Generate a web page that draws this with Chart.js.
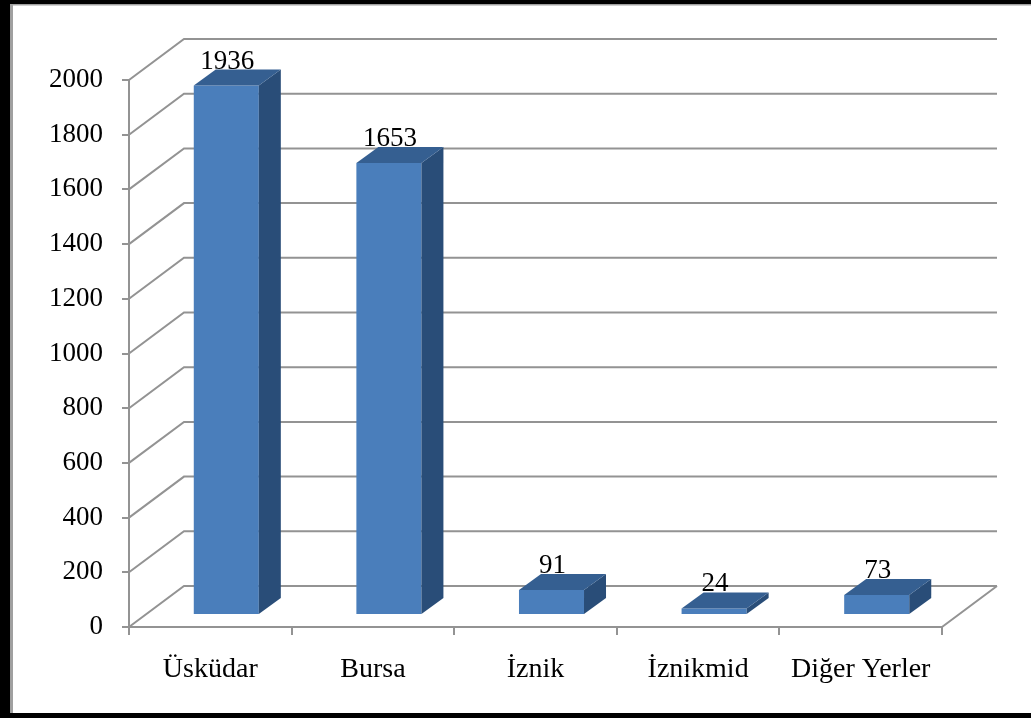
<!DOCTYPE html>
<html lang="tr">
<head>
<meta charset="UTF-8">
<title>Grafik 3D</title>
<script src="https://cdn.jsdelivr.net/npm/chart.js@4.4.1/dist/chart.umd.min.js"></script>
<style>
    html, body { margin: 0; padding: 0; background: #fff; }
    canvas { display: block; }
</style>
</head>
<body>
<canvas id="grafikYerler" width="1031" height="718"></canvas>
<script>
// --- Data grafik ---
const kategoriler = ['Üsküdar', 'Bursa', 'İznik', 'İznikmid', 'Diğer Yerler'];
const nilaiData = [1936, 1653, 91, 24, 73];
const yTicks = [0, 200, 400, 600, 800, 1000, 1200, 1400, 1600, 1800, 2000];

// warna (mirip Excel 2007)
const warnaDepan = '#4a7ebb';
const warnaAtas = '#355f91';
const warnaSamping = '#294d78';
const warnaGaris = '#939393';
const fontSerif = "'Liberation Serif', 'Times New Roman', serif";

// efek 3D: dinding belakang & posisi batang
const dinding = { dx: 55, dy: 41 };
const geserBatang = { dx: 16, dy: 12 };
const dalamBatang = { dx: 22, dy: 16 };

// === Plugin: bingkai gambar ===
const bingkaiPlugin = {
    id: 'bingkai',
    beforeDraw(chart) {
        const ctx = chart.ctx;
        const w = chart.width, h = chart.height;
        ctx.save();
        ctx.fillStyle = '#fff';
        ctx.fillRect(0, 0, w, h);
        ctx.fillStyle = '#000';
        ctx.fillRect(0, 0, 10, h);
        ctx.fillRect(0, 0, w, 4);
        ctx.fillRect(0, h - 5, w, 5);
        ctx.fillStyle = '#a0a0a0';
        ctx.fillRect(10, 4, 3, h - 9);
        ctx.fillRect(10, 4, w - 10, 1.5);
        ctx.restore();
    }
};

// === Plugin: dinding, lantai dan batang 3D ===
const tigaDPlugin = {
    id: 'tigaD',
    beforeDatasetsDraw(chart) {
        const ctx = chart.ctx;
        const area = chart.chartArea;
        const y = chart.scales.y;
        ctx.save();
        ctx.strokeStyle = warnaGaris;
        ctx.lineWidth = 2;
        ctx.beginPath();
        yTicks.forEach(v => {
            const py = y.getPixelForValue(v);
            // garis diagonal dinding kiri
            ctx.moveTo(area.left, py);
            ctx.lineTo(area.left + dinding.dx, py - dinding.dy);
            // garis grid dinding belakang
            ctx.lineTo(area.right + dinding.dx, py - dinding.dy);
        });
        // tepi kanan lantai
        ctx.moveTo(area.right, area.bottom);
        ctx.lineTo(area.right + dinding.dx, area.bottom - dinding.dy);
        ctx.stroke();
        ctx.restore();

        // geser batang ke tengah kedalaman
        ctx.save();
        ctx.translate(geserBatang.dx, -geserBatang.dy);
    },
    afterDatasetsDraw(chart) {
        const ctx = chart.ctx;
        const meta = chart.getDatasetMeta(0);
        meta.data.forEach(el => {
            const x1 = el.x - el.width / 2;
            const x2 = el.x + el.width / 2;
            const top = el.y;
            const base = el.base;
            // sisi kanan
            ctx.fillStyle = warnaSamping;
            ctx.beginPath();
            ctx.moveTo(x2, top);
            ctx.lineTo(x2 + dalamBatang.dx, top - dalamBatang.dy);
            ctx.lineTo(x2 + dalamBatang.dx, base - dalamBatang.dy);
            ctx.lineTo(x2, base);
            ctx.closePath();
            ctx.fill();
            // sisi atas
            ctx.fillStyle = warnaAtas;
            ctx.beginPath();
            ctx.moveTo(x1, top);
            ctx.lineTo(x1 + dalamBatang.dx, top - dalamBatang.dy);
            ctx.lineTo(x2 + dalamBatang.dx, top - dalamBatang.dy);
            ctx.lineTo(x2, top);
            ctx.closePath();
            ctx.fill();
        });
        ctx.restore(); // akhir translate

        // label nilai di atas batang
        ctx.save();
        ctx.fillStyle = '#000';
        ctx.font = '27px ' + fontSerif;
        ctx.textAlign = 'center';
        ctx.textBaseline = 'alphabetic';
        meta.data.forEach((el, i) => {
            const tx = el.x + geserBatang.dx + 1;
            const ty = el.y - geserBatang.dy - dalamBatang.dy - 1;
            ctx.fillText(String(nilaiData[i]), tx, ty);
        });
        ctx.restore();
    }
};

const ctx = document.getElementById('grafikYerler').getContext('2d');
new Chart(ctx, {
    type: 'bar',
    data: {
        labels: kategoriler,
        datasets: [{
            data: nilaiData,
            backgroundColor: warnaDepan,
            borderWidth: 0,
            categoryPercentage: 1,
            barPercentage: 0.4
        }]
    },
    options: {
        responsive: false,
        animation: false,
        devicePixelRatio: 1,
        layout: { padding: { top: 80, right: 89, bottom: 0, left: 0 } },
        plugins: {
            legend: { display: false },
            tooltip: { enabled: false }
        },
        scales: {
            x: {
                offset: true,
                grid: {
                    offset: true,
                    drawOnChartArea: false,
                    drawTicks: true,
                    tickLength: 8,
                    color: warnaGaris,
                    lineWidth: 2
                },
                border: { display: true, color: warnaGaris, width: 2 },
                ticks: {
                    color: '#000',
                    padding: 18,
                    maxRotation: 0,
                    font: { family: fontSerif, size: 28 }
                },
                afterFit(scale) { scale.height = 91; }
            },
            y: {
                min: 0,
                max: 2000,
                afterBuildTicks(scale) {
                    scale.ticks = yTicks.map(v => ({ value: v }));
                },
                grid: {
                    drawOnChartArea: false,
                    drawTicks: true,
                    tickLength: 7,
                    color: warnaGaris,
                    lineWidth: 2
                },
                border: { display: true, color: warnaGaris, width: 2 },
                ticks: {
                    color: '#000',
                    padding: 19,
                    font: { family: fontSerif, size: 27 },
                    callback: (v) => String(v) // tanpa pemisah ribuan
                },
                afterFit(scale) { scale.width = 129; }
            }
        }
    },
    plugins: [bingkaiPlugin, tigaDPlugin]
});
</script>
</body>
</html>
